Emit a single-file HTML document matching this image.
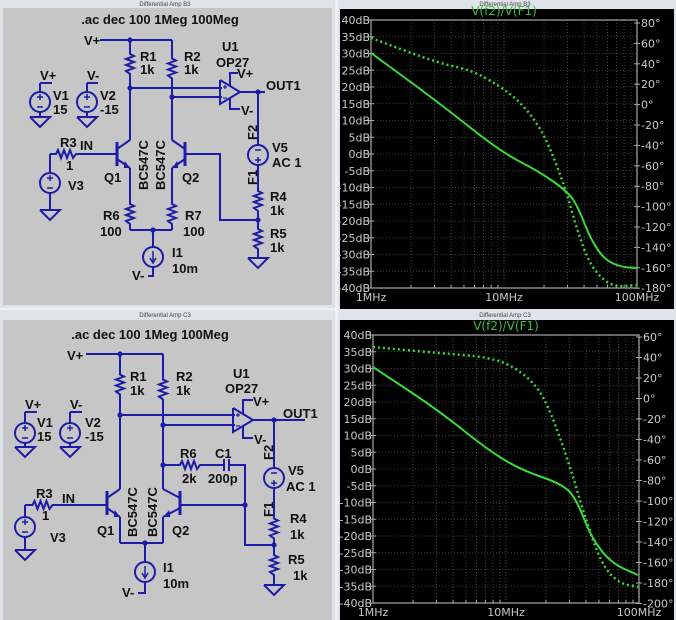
<!DOCTYPE html>
<html><head><meta charset="utf-8"><style>
html,body{margin:0;padding:0;background:#eef0f3;}
svg{display:block;}
.t{font-family:"Liberation Sans",sans-serif;font-weight:bold;font-size:13px;fill:#111;}
.ax{font-family:"DejaVu Sans","Liberation Sans",sans-serif;font-size:11px;fill:#c8c8c8;}
.tb{font-family:"Liberation Sans",sans-serif;font-size:6px;fill:#444;}
</style></head><body>
<svg id="s" width="676" height="620" xmlns="http://www.w3.org/2000/svg">
<rect x="0" y="0" width="676" height="620" fill="#eef0f3"/>
<rect x="0" y="0" width="335" height="308" fill="#dfe4ea"/>
<rect x="3" y="8" width="329" height="297" fill="#c6c6c6"/>
<text class="tb" x="165" y="6" text-anchor="middle">Differential Amp B3</text>
<rect x="338" y="0" width="338" height="310" fill="#dfe4ea"/>
<rect x="340" y="9" width="334" height="300" fill="#000"/>
<text class="tb" x="505" y="6" text-anchor="middle">Differential Amp B3</text>
<rect x="0" y="310" width="335" height="310" fill="#dfe4ea"/>
<rect x="3" y="320" width="329" height="300" fill="#c6c6c6"/>
<text class="tb" x="165" y="317" text-anchor="middle">Differential Amp C3</text>
<rect x="338" y="310" width="338" height="310" fill="#dfe4ea"/>
<rect x="340" y="320" width="334" height="300" fill="#000"/>
<text class="tb" x="505" y="317" text-anchor="middle">Differential Amp C3</text>
<g id="g"></g>
</svg>
<script>
const G=document.getElementById('g');
let H='';
const B='#1c1ca8';
function L(pts,w){H+=`<polyline points="${pts}" fill="none" stroke="${B}" stroke-width="${w||2}"/>`;}
function D(x,y){H+=`<circle cx="${x}" cy="${y}" r="2.6" fill="${B}"/>`;}
function T(x,y,s,a,rot){H+=`<text class="t" x="${x}" y="${y}"${a?` text-anchor="${a}"`:''}${rot?` transform="rotate(-90 ${x} ${y})"`:''}>${s}</text>`;}
function RV(x,y1,y2){const m=(y1+y2)/2;let p=`${x},${y1} ${x},${m-10}`;const z=[[4,-8],[-4,-5],[4,-2],[-4,1],[4,4],[-4,7]];for(const [dx,dy] of z)p+=` ${x+dx},${m+dy}`;p+=` ${x},${m+10} ${x},${y2}`;L(p);}
function RH(x1,x2,y){const m=(x1+x2)/2;let p=`${x1},${y} ${m-10},${y}`;const z=[[-8,-4],[-5,4],[-2,-4],[1,4],[4,-4],[7,4]];for(const [dx,dy] of z)p+=` ${m+dx},${y+dy}`;p+=` ${m+10},${y} ${x2},${y}`;L(p);}
function VS(x,cy){H+=`<circle cx="${x}" cy="${cy}" r="10" fill="none" stroke="${B}" stroke-width="2"/>`;L(`${x-3},${cy-5} ${x+3},${cy-5}`,1.5);L(`${x},${cy-8} ${x},${cy-2}`,1.5);L(`${x-3},${cy+5} ${x+3},${cy+5}`,1.5);}
function VSinv(x,cy){H+=`<circle cx="${x}" cy="${cy}" r="10" fill="none" stroke="${B}" stroke-width="2"/>`;L(`${x-3},${cy-5} ${x+3},${cy-5}`,1.5);L(`${x-3},${cy+5} ${x+3},${cy+5}`,1.5);L(`${x},${cy+2} ${x},${cy+8}`,1.5);}
function GND(x,y){L(`${x-10},${y} ${x+10},${y} ${x},${y+10} ${x-10},${y}`);}
function IS(x,cy){H+=`<circle cx="${x}" cy="${cy}" r="10" fill="none" stroke="${B}" stroke-width="2"/>`;L(`${x},${cy-6} ${x},${cy+5}`,1.5);L(`${x-3},${cy+1} ${x},${cy+6} ${x+3},${cy+1}`,1.5);}
function Q(bx,cx,yc,dir){
 L(`${bx},${yc-12} ${bx},${yc+12}`,3);
 L(`${bx},${yc-5} ${cx},${yc-14}`);L(`${bx},${yc+5} ${cx},${yc+14}`);
 const ax=cx-(cx-bx)*0.25, ay=yc+12;
 H+=`<polygon points="${cx},${yc+14} ${ax-2*dir},${ay-5} ${ax-3*dir},${ay+2}" fill="${B}"/>`;}
function OA(x,yc){L(`${x},${yc-12} ${x},${yc+12} ${x+20},${yc} ${x},${yc-12}`);
 L(`${x+3},${yc-5} ${x+7},${yc-5}`,1.2);L(`${x+5},${yc-7} ${x+5},${yc-3}`,1.2);L(`${x+3},${yc+6} ${x+7},${yc+6}`,1.2);}
// TOP
T(160,24,'.ac dec 100 1Meg 100Meg','middle');
T(84,45,'V+');L('100,40 172,40');D(130,40);
RV(130,40,88);RV(172,40,97);
T(140,61,'R1');T(140,74,'1k');T(184,61,'R2');T(184,74,'1k');
L('130,88 222,88');D(130,88);L('172,97 222,97');D(172,97);
OA(220,92);L('240,92 265,92');D(258,92);T(266,90,'OUT1');
L('230,86 230,73 238,73');T(237,78,'V+');L('230,98 230,109 240,109');T(241,115,'V-');
T(222,51,'U1');T(216,67,'OP27');
T(40,80,'V+');L('40,83 40,92');L('40,83 52,83');VS(40,102);L('40,112 40,117');GND(40,117);T(53,100,'V1');T(53,114,'15');
T(87,80,'V-');L('87,83 87,92');L('87,83 98,83');VS(87,102);L('87,112 87,117');GND(87,117);T(100,100,'V2');T(100,114,'-15');
RH(50,82,154);L('50,154 50,173');VS(50,183);L('50,193 50,210');GND(50,210);
T(60,147,'R3');T(66,170,'1');T(80,150,'IN');T(68,190,'V3');
L('82,154 117,154');Q(117,130,154,1);L('130,140 130,88');L('130,168 130,200');
L('185,154 220,154 220,220 258,220');Q(185,172,154,-1);L('172,140 172,97');L('172,168 172,200');
T(148,190,'BC547C','',1);T(165,190,'BC547C','',1);
T(104,182,'Q1');T(182,182,'Q2');
RV(130,198,230);RV(172,198,230);
T(103,220,'R6');T(100,236,'100');T(185,220,'R7');T(183,236,'100');
L('130,230 172,230');D(153,230);L('153,230 153,247');IS(153,257);L('153,267 153,276 148,276');
T(132,280,'V-');T(172,257,'I1');T(172,273,'10m');
L('258,92 258,145');VSinv(258,155);L('258,165 258,182');RV(258,182,220);D(258,220);RV(258,220,258);GND(258,258);
T(257,140,'F2','',1);T(257,185,'F1','',1);T(272,152,'V5');T(272,167,'AC 1');
T(270,201,'R4');T(270,215,'1k');T(270,238,'R5');T(270,252,'1k');
// BOTTOM
T(150,339,'.ac dec 100 1Meg 100Meg','middle');
T(67,360,'V+');L('86,354 163,354');D(120,354);
RV(120,354,415);RV(163,354,425);
T(130,381,'R1');T(130,395,'1k');T(176,381,'R2');T(176,395,'1k');
L('120,415 235,415');D(120,415);L('163,425 235,425');D(163,425);
OA(233,420);L('253,420 305,420');D(274,420);T(283,418,'OUT1');
L('243,414 243,400 253,400');T(253,406,'V+');L('243,426 243,438 253,438');T(254,444,'V-');
T(233,378,'U1');T(225,393,'OP27');
T(25,409,'V+');L('25,412 25,423');L('25,412 37,412');VS(25,433);L('25,443 25,447');GND(25,447);T(37,427,'V1');T(37,441,'15');
T(70,409,'V-');L('70,412 70,423');L('70,412 82,412');VS(70,433);L('70,443 70,447');GND(70,447);T(85,427,'V2');T(85,441,'-15');
L('163,465 175,465');D(163,465);RH(175,205,465);L('205,465 224,465');L('224,459 224,471');L('229,459 229,471');L('229,465 245,465 245,545 274,545');D(245,505);
T(180,458,'R6');T(182,483,'2k');T(215,458,'C1');T(208,483,'200p');
RH(25,60,505);L('25,505 25,517');VS(25,527);L('25,537 25,550');GND(25,550);
T(36,498,'R3');T(42,520,'1');T(62,503,'IN');T(50,542,'V3');
L('60,505 107,505');Q(107,120,503,1);L('120,489 120,415');L('120,517 120,543');
L('180,505 245,505');Q(180,163,503,-1);L('163,489 163,425');L('163,517 163,543');
T(137,537,'BC547C','',1);T(157,537,'BC547C','',1);
T(97,535,'Q1');T(172,535,'Q2');
L('120,543 163,543');D(145,543);L('145,543 145,562');IS(145,572);L('145,582 145,593 138,593');
T(122,597,'V-');T(163,572,'I1');T(163,588,'10m');
L('274,420 274,468');VSinv(274,478);L('274,488 274,512');RV(274,512,545);D(274,545);RV(274,545,585);GND(274,585);
T(273,460,'F2','',1);T(273,517,'F1','',1);T(288,475,'V5');T(286,491,'AC 1');
T(290,523,'R4');T(290,539,'1k');T(288,564,'R5');T(293,580,'1k');
// PLOTS
function plot(x0,x1,y0,y1,deg,sol,dot){
 const w=x1-x0,h=y1-y0;
 for(let d=0;d<2;d++)for(let k=1;k<=10;k++){const x=x0+w*(d+Math.log10(k))/2; if(k>1||d>0)H+=`<line x1="${x}" y1="${y0}" x2="${x}" y2="${y1}" stroke="#555" stroke-width="0.8" stroke-dasharray="1,2"/>`;}
 for(let i=1;i<16;i++){const y=y0+h*i/16;H+=`<line x1="${x0}" y1="${y}" x2="${x1}" y2="${y}" stroke="#555" stroke-width="0.8" stroke-dasharray="1,2"/>`;}
 H+=`<rect x="${x0}" y="${y0}" width="${w}" height="${h}" fill="none" stroke="#aaa" stroke-width="1.2"/>`;
 for(let i=0;i<=16;i++){const y=y0+h*i/16;const v=40-5*i;H+=`<line x1="${x0-3}" y1="${y}" x2="${x0+3}" y2="${y}" stroke="#aaa"/>`;H+=`<text class="ax" x="${x0-1}" y="${y+4}" text-anchor="end">${v}dB</text>`;}
 deg.forEach(([v,y])=>{H+=`<line x1="${x1-3}" y1="${y}" x2="${x1+3}" y2="${y}" stroke="#aaa"/><text class="ax" x="${x1+4}" y="${y+4}">${v}°</text>`;});
 for(let d=0;d<2;d++)for(let k=2;k<=9;k++){const x=x0+w*(d+Math.log10(k))/2;H+=`<line x1="${x}" y1="${y1-3}" x2="${x}" y2="${y1}" stroke="#aaa"/>`;}
 [['1MHz',x0],['10MHz',x0+w/2],['100MHz',x1]].forEach(([s,x])=>H+=`<text class="ax" x="${x}" y="${y1+13}" text-anchor="middle">${s}</text>`);
 H+=`<text class="ax" x="${x0+w/2}" y="${y0-5}" text-anchor="middle" style="fill:#3dbf3d;font-size:12px">V(f2)/V(F1)</text>`;
 const path=p=>{let s='M'+p[0];for(let i=1;i<p.length;i++){const a=p[i-1],b=p[i];const mx=(a[0]+b[0])/2;s+=` Q${a[0]},${a[1]} ${mx},${(a[1]+b[1])/2}`;}s+=` L${p[p.length-1]}`;return s;};
 H+=`<path d="${path(sol)}" fill="none" stroke="#3cd83c" stroke-width="2"/>`;
 H+=`<path d="${path(dot)}" fill="none" stroke="#3cd83c" stroke-width="2.5" stroke-dasharray="2,3"/>`;
}
const d1=[];for(let i=0;i<14;i++)d1.push([80-20*i,23+i*20.4]);
plot(371,637,20,288,d1,
 [[371,53],[371,53],[438,102],[501,152],[540,172],[568,192],[578,207],[591,240],[605,260],[621,267],[637,268]],
 [[371,38],[371,38],[438,63],[471,70],[498,85],[518,100],[535,120],[548,143],[565,187],[578,233],[591,267],[611,287],[637,285]]);
const d2=[];for(let i=0;i<14;i++)d2.push([60-20*i,337+i*20.5]);
plot(373,639,335,603,d2,
 [[373,367],[373,367],[438,410],[488,450],[521,470],[565,485],[578,503],[591,537],[611,563],[638,575]],
 [[373,347],[373,347],[438,353],[488,357],[515,367],[538,387],[551,413],[568,460],[585,517],[601,563],[618,583],[638,587]]);
G.innerHTML=H;
</script>
</body></html>
